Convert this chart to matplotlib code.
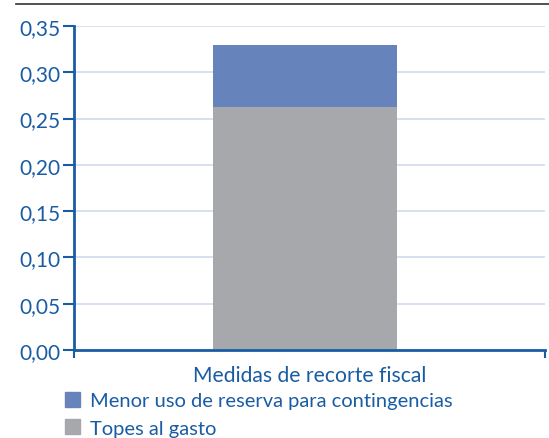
import matplotlib.pyplot as plt
from matplotlib.lines import Line2D

# Datos
categorias = ['Medidas de recorte fiscal']
topes_gasto = [0.263]
menor_reserva = [0.067]
series_labels = ['Menor uso de reserva para contingencias', 'Topes al gasto']
yticks = [0.00, 0.05, 0.10, 0.15, 0.20, 0.25, 0.30, 0.35]

AZUL = '#1a5ca4'
plt.rcParams['font.family'] = ['Lato', 'DejaVu Sans']

fig = plt.figure(figsize=(5.49, 4.39), dpi=100)
ax = fig.add_axes([0.1348, 0.2005, 0.858, 0.738])

x = range(len(categorias))
ax.bar(x, topes_gasto, width=0.39, color='#a7a8ab', zorder=2)
ax.bar(x, menor_reserva, bottom=topes_gasto, width=0.39, color='#6683bb', zorder=2)

ax.set_xlim(-0.49, 0.51)
ax.set_ylim(0, 0.35)
ax.set_yticks(yticks)
ax.set_yticklabels([f"{v:.2f}".replace('.', ',') for v in yticks])
ax.set_xticks([-0.49, 0.51])
ax.set_xticklabels(['', ''])
ax.set_xlabel(categorias[0], fontsize=15.2, color=AZUL, labelpad=5)

ax.grid(axis='y', color='#d3daee', linewidth=1.2, zorder=0)
for s in ['top', 'right']:
    ax.spines[s].set_visible(False)
for s in ['left', 'bottom']:
    ax.spines[s].set_color(AZUL)
    ax.spines[s].set_linewidth(2)
ax.tick_params(axis='y', colors=AZUL, labelsize=15, length=8, width=1.5, pad=2)
ax.tick_params(axis='x', colors=AZUL, length=6, width=1.5, pad=0)

# ligne en haut
fig.add_artist(Line2D([0.03, 1.0], [0.988, 0.988], color='#333333', linewidth=1.2))

# Légende
handles = [plt.Rectangle((0, 0), 1, 1, color='#6683bb'),
           plt.Rectangle((0, 0), 1, 1, color='#a7a8ab')]
leg = fig.legend(handles, series_labels, loc='upper left', bbox_to_anchor=(0.118, 0.105),
                 frameon=False, fontsize=14.5, handlelength=0.75, handleheight=0.75,
                 handletextpad=0.5, labelspacing=0.5, borderaxespad=0, borderpad=0)
for t in leg.get_texts():
    t.set_color(AZUL)

fig.savefig('out.png', dpi=100)
